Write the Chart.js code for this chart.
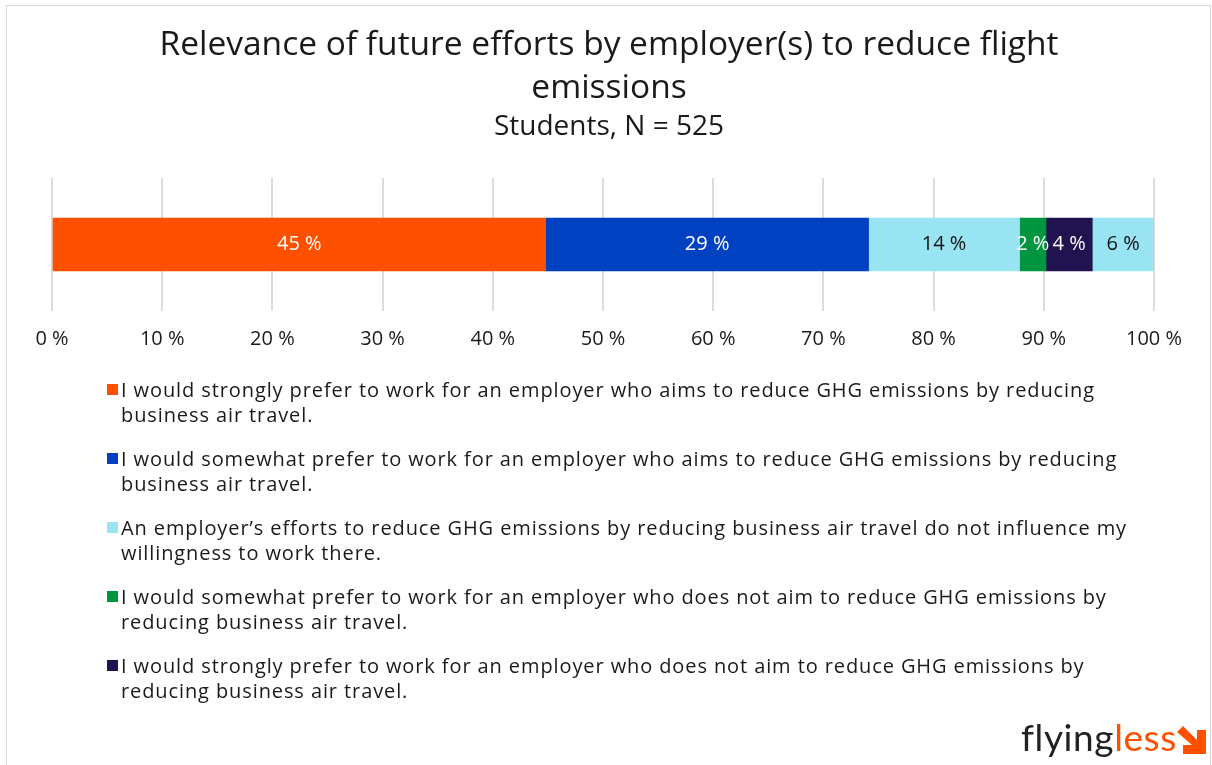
<!DOCTYPE html>
<html>
<head>
<meta charset="utf-8">
<script src="https://cdn.jsdelivr.net/npm/chart.js@4"></script>
<style>
  html, body { margin: 0; padding: 0; background: #fff; }
  body { width: 1212px; height: 765px; position: relative; overflow: hidden; font-family: 'Open Sans', sans-serif; }
  #frame { position: absolute; left: 6px; top: 5px; width: 1203px; height: 800px; border: 1px solid #d9d9d9; }
  #wrap { position: absolute; left: 0; top: 0; width: 1218px; height: 383px; }
  #legend { position: absolute; left: 107px; top: 377px; }
  .item { display: flex; align-items: flex-start; margin-bottom: 19px; }
  .box { width: 11px; height: 11px; margin-top: 7px; margin-right: 3px; flex: none; }
  .txt { font-size: 20px; letter-spacing: 0.9px; line-height: 25px; color: #1a1a1a; white-space: nowrap; }
  #logo { position: absolute; left: 1021px; top: 714px; font-family: Lato, sans-serif; font-size: 37px; letter-spacing: 0.6px; color: #222; white-space: nowrap; }
  #logo .less { color: #ff5000; }
  #logo svg { vertical-align: -3px; margin-left: 0px; }
</style>
</head>
<body>
<div id="frame"></div>
<div id="wrap"><canvas id="chart"></canvas></div>
<div id="legend"></div>
<div id="logo">flying<span class="less">less</span><svg width="29" height="28" viewBox="0 0 29 28"><polygon fill="#ff5000" points="0,6 6,0 20,14 20,4 29,4 29,28 6,28 6,19 15,19" /></svg></div>

<script>
// answer categories (the last one is not listed in the legend)
const answers = [
  ['I would strongly prefer to work for an employer who aims to reduce GHG emissions by reducing', 'business air travel.'],
  ['I would somewhat prefer to work for an employer who aims to reduce GHG emissions by reducing', 'business air travel.'],
  ['An employer\u2019s efforts to reduce GHG emissions by reducing business air travel do not influence my', 'willingness to work there.'],
  ['I would somewhat prefer to work for an employer who does not aim to reduce GHG emissions by', 'reducing business air travel.'],
  ['I would strongly prefer to work for an employer who does not aim to reduce GHG emissions by', 'reducing business air travel.'],
  ['No answer']
];
const shares = [44.8, 29.3, 13.7, 2.4, 4.2, 5.6];
const colors = ['#ff5000', '#0041c2', '#99e4f2', '#00963f', '#20134f', '#99e4f2'];
const labelColors = ['#ffffff', '#ffffff', '#111111', '#ffffff', '#ffffff', '#111111'];
const inLegend = [true, true, true, true, true, false];
const groupLabel = ['Students'];

Chart.defaults.font.family = "'Open Sans', sans-serif";
Chart.defaults.color = '#1a1a1a';

const barLabels = {
  id: 'barLabels',
  afterDatasetsDraw(chart) {
    const ctx = chart.ctx;
    ctx.save();
    ctx.font = "20px 'Open Sans'";
    ctx.textAlign = 'center';
    ctx.textBaseline = 'middle';
    chart.data.datasets.forEach((ds, i) => {
      chart.getDatasetMeta(i).data.forEach((bar, j) => {
        const p = bar.getProps(['x', 'y', 'base'], true);
        ctx.fillStyle = labelColors[i];
        ctx.fillText(Math.round(ds.data[j]) + ' %', (p.x + p.base) / 2, p.y);
      });
    });
    ctx.restore();
  }
};

// empty side axes that only reserve room left and right of the bar
const sideAxis = (pos, w) => ({
  type: 'category',
  position: pos,
  stacked: true,
  grid: { display: false },
  border: { display: false },
  ticks: { display: false },
  afterFit: s => { s.width = w; }
});

const chart = new Chart(document.getElementById('chart'), {
  type: 'bar',
  data: {
    labels: groupLabel,
    datasets: shares.map((v, i) => ({
      label: answers[i].join(' '),
      data: [v],
      backgroundColor: colors[i],
      borderWidth: 0,
      barThickness: 53
    }))
  },
  options: {
    indexAxis: 'y',
    responsive: true,
    maintainAspectRatio: false,
    animation: false,
    layout: { padding: { top: 10, left: 0, right: 0, bottom: 16 } },
    scales: {
      x: {
        stacked: true,
        min: 0,
        max: 100,
        border: { display: false },
        grid: { color: '#dcdcdc', lineWidth: 2, drawTicks: false },
        ticks: { stepSize: 10, padding: 16, color: '#1a1a1a', font: { size: 20 }, callback: v => v + ' %' }
      },
      y: sideAxis('left', 52),
      yRight: Object.assign(sideAxis('right', 64), { axis: 'y' })
    },
    plugins: {
      legend: { display: false },
      tooltip: { enabled: false },
      title: {
        display: true,
        text: ['Relevance of future efforts by employer(s) to reduce flight', 'emissions'],
        color: '#1a1a1a',
        font: { size: 33.5, weight: 'normal', lineHeight: '43px' },
        padding: { top: 14, bottom: 0 }
      },
      subtitle: {
        display: true,
        text: 'Students, N = 525',
        color: '#1a1a1a',
        font: { size: 28, lineHeight: '34px' },
        padding: { top: 0, bottom: 34 }
      }
    }
  },
  plugins: [barLabels]
});

// legend built from the answer list
const legend = document.getElementById('legend');
answers.forEach((lines, i) => {
  if (!inLegend[i]) return;
  const item = document.createElement('div');
  item.className = 'item';
  const box = document.createElement('div');
  box.className = 'box';
  box.style.background = colors[i];
  const txt = document.createElement('div');
  txt.className = 'txt';
  txt.innerHTML = lines.join('<br>');
  item.appendChild(box);
  item.appendChild(txt);
  legend.appendChild(item);
});
</script>
</body>
</html>
